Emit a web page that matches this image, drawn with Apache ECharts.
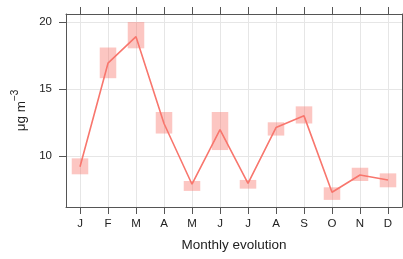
<!DOCTYPE html>
<html>
<head>
<meta charset="utf-8">
<script src="https://cdn.jsdelivr.net/npm/echarts@6/dist/echarts.min.js"></script>
<style>
  html, body { margin: 0; padding: 0; background: #fff; }
  #main { width: 403px; height: 259px; }
</style>
</head>
<body>
<div id="main"></div>
<script>
// monthly mean with its interval
var months = ['J', 'F', 'M', 'A', 'M', 'J', 'J', 'A', 'S', 'O', 'N', 'D']
var meanVals = [9.2, 16.93, 18.91, 12.43, 7.9, 11.98, 7.97, 12.13, 13.0, 7.3, 8.59, 8.22]
var lowerVals = [8.64, 15.81, 18.04, 11.68, 7.4, 10.45, 7.57, 11.53, 12.43, 6.73, 8.14, 7.67]
var upperVals = [9.83, 18.1, 20.0, 13.29, 8.14, 13.29, 8.22, 12.52, 13.71, 7.67, 9.13, 8.71]
var yTicks = [10, 15, 20]

var lineColor = '#F8766D'
var frameColor = '#555'
var gridColor = '#e6e6e6'
var font = 'Liberation Sans, Arial, sans-serif'

var boxData = months.map(function (m, i) {
  return [i, lowerVals[i], upperVals[i]]
})

var myChart = echarts.init(document.getElementById('main'))
myChart.setOption({
  animation: false,
  textStyle: { fontFamily: font },
  grid: { left: 66, right: 1, top: 14, bottom: 52 },
  xAxis: [
    {
      type: 'category',
      data: months,
      boundaryGap: true,
      name: 'Monthly evolution',
      nameLocation: 'middle',
      nameGap: 31,
      nameTextStyle: { fontSize: 13.5, color: '#222', fontFamily: font },
      axisLine: { lineStyle: { color: frameColor, width: 1 } },
      axisTick: { show: true, interval: 0, inside: false, alignWithLabel: true, length: 7, lineStyle: { color: frameColor, width: 1 } },
      axisLabel: { margin: 11, fontSize: 11.5, color: '#222', fontFamily: font, interval: 0 },
      splitLine: { show: true, alignWithLabel: true, interval: 0, lineStyle: { color: gridColor, width: 1 } }
    },
    {
      type: 'category',
      data: months,
      position: 'top',
      boundaryGap: true,
      axisLine: { lineStyle: { color: frameColor, width: 1 } },
      axisTick: { show: true, interval: 0, inside: false, alignWithLabel: true, length: 7, lineStyle: { color: frameColor, width: 1 } },
      axisLabel: { show: false },
      splitLine: { show: false }
    }
  ],
  yAxis: [
    {
      type: 'value',
      min: 6.2,
      max: 20.6,
      name: '{a|\u03bcg m}{b|\u22123}',
      nameLocation: 'middle',
      nameGap: 30,
      nameRotate: 90,
      nameTextStyle: {
        rich: {
          a: { fontSize: 13.5, color: '#222', fontFamily: font, verticalAlign: 'bottom', lineHeight: 18 },
          b: { fontSize: 10, color: '#222', fontFamily: font, verticalAlign: 'top', lineHeight: 18 }
        }
      },
      axisLine: { show: true, lineStyle: { color: frameColor, width: 1 } },
      axisTick: { show: true, inside: false, length: 7, customValues: yTicks, lineStyle: { color: frameColor, width: 1 } },
      axisLabel: { margin: 14, fontSize: 11.5, color: '#222', fontFamily: font, customValues: yTicks },
      splitLine: { show: true, lineStyle: { color: gridColor, width: 1 } }
    },
    {
      type: 'value',
      min: 6.2,
      max: 20.6,
      position: 'right',
      axisLine: { show: true, lineStyle: { color: frameColor, width: 1 } },
      axisTick: { show: false },
      axisLabel: { show: false },
      splitLine: { show: false }
    }
  ],
  series: [
    {
      name: 'interval',
      type: 'custom',
      data: boxData,
      z: 2,
      renderItem: function (params, api) {
        var lo = api.coord([api.value(0), api.value(1)])
        var hi = api.coord([api.value(0), api.value(2)])
        var w = api.size([1, 0])[0] * 0.59
        return {
          type: 'rect',
          shape: { x: lo[0] - w / 2, y: hi[1], width: w, height: lo[1] - hi[1] },
          style: { fill: 'rgba(248,118,109,0.42)' }
        }
      }
    },
    {
      name: 'mean',
      type: 'line',
      data: meanVals,
      z: 3,
      symbol: 'none',
      lineStyle: { color: lineColor, width: 1.6 }
    }
  ]
})
window.onresize = myChart.resize
</script>
</body>
</html>
